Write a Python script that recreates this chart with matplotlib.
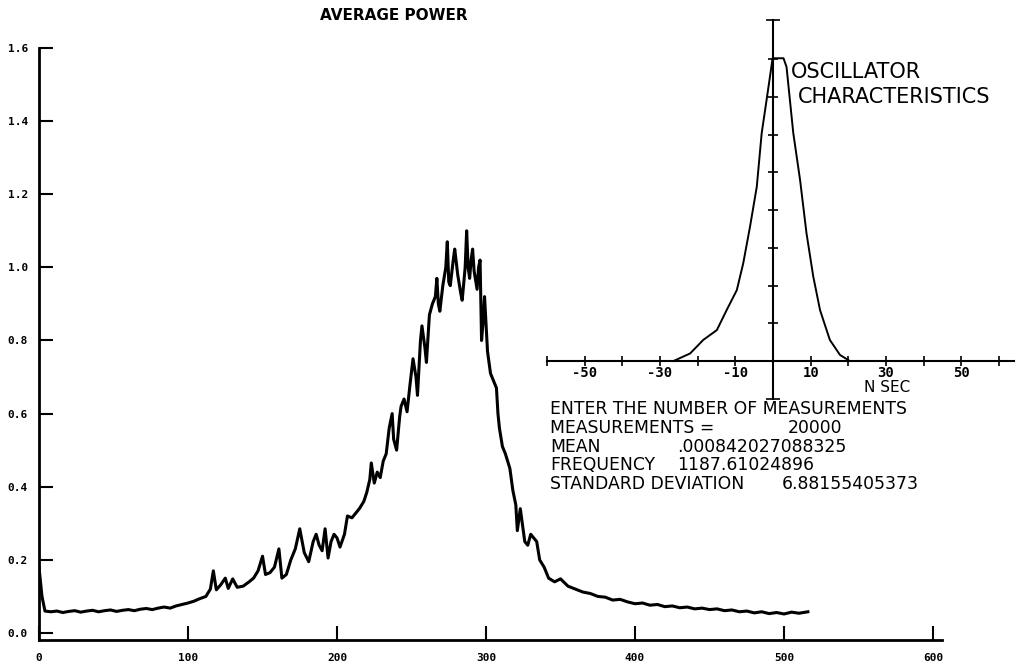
import numpy as np
import matplotlib.pyplot as plt

# main curve: average power vs sample
power_x = [0, 2, 4, 8, 12, 16, 20, 24, 28, 32, 36, 40, 44, 48, 52, 56, 60, 64, 68, 72,
           76, 80, 84, 88, 92, 96, 100, 104, 108, 112, 115, 117, 119, 122, 125, 127, 130, 133, 137, 141,
           144, 147, 150, 152, 155, 158, 161, 163, 166, 169, 172, 175, 178, 181, 184, 186, 188, 190, 192, 194,
           196, 198, 200, 202, 205, 207, 210, 213, 215, 218, 220, 222, 223, 225, 227, 229, 231, 233, 235, 237,
           238, 240, 242, 243, 245, 247, 249, 251, 253, 254, 256, 257, 259, 260, 262, 264, 266, 267, 268, 269,
           271, 273, 274, 275, 276, 278, 279, 281, 283, 284, 286, 287, 288, 289, 290, 291, 292, 294, 295, 296,
           297, 298, 299, 301, 303, 305, 307, 308, 309, 311, 313, 316, 318, 320, 321, 323, 325, 326, 328, 330,
           332, 334, 336, 339, 342, 346, 350, 355, 360, 365, 370, 375, 380, 385, 390, 395, 400, 405, 410, 415,
           420, 425, 430, 435, 440, 445, 450, 455, 460, 465, 470, 475, 480, 485, 490, 495, 500, 505, 510, 516]
power_y = [0.18, 0.10, 0.060, 0.058, 0.060, 0.056, 0.059, 0.061, 0.057, 0.060, 0.062, 0.058, 0.061, 0.063, 0.059, 0.062, 0.064, 0.061, 0.065, 0.067,
           0.064, 0.068, 0.071, 0.068, 0.074, 0.078, 0.082, 0.087, 0.094, 0.100, 0.120, 0.170, 0.118, 0.132, 0.150, 0.122, 0.148, 0.125, 0.128, 0.140,
           0.150, 0.170, 0.210, 0.160, 0.165, 0.180, 0.230, 0.150, 0.160, 0.200, 0.230, 0.285, 0.220, 0.195, 0.250, 0.270, 0.240, 0.225, 0.285, 0.205,
           0.250, 0.270, 0.260, 0.235, 0.270, 0.320, 0.315, 0.330, 0.340, 0.360, 0.385, 0.420, 0.465, 0.410, 0.440, 0.425, 0.470, 0.490, 0.560, 0.600,
           0.530, 0.500, 0.590, 0.620, 0.640, 0.605, 0.680, 0.750, 0.700, 0.650, 0.800, 0.840, 0.780, 0.740, 0.870, 0.900, 0.920, 0.970, 0.900, 0.880,
           0.950, 1.000, 1.070, 0.960, 0.950, 1.020, 1.050, 0.980, 0.930, 0.910, 1.000, 1.100, 1.000, 0.970, 1.020, 1.050, 0.990, 0.940, 1.000, 1.020,
           0.800, 0.850, 0.920, 0.770, 0.710, 0.690, 0.670, 0.600, 0.560, 0.510, 0.490, 0.450, 0.390, 0.350, 0.280, 0.340, 0.280, 0.250, 0.240, 0.270,
           0.260, 0.250, 0.200, 0.180, 0.150, 0.140, 0.148, 0.128, 0.120, 0.112, 0.108, 0.100, 0.098, 0.090, 0.092, 0.085, 0.080, 0.082, 0.076, 0.078,
           0.072, 0.074, 0.069, 0.071, 0.066, 0.068, 0.064, 0.066, 0.061, 0.063, 0.058, 0.060, 0.055, 0.058, 0.053, 0.056, 0.052, 0.057, 0.054, 0.058]

x_ticks = [0, 100, 200, 300, 400, 500, 600]
x_labels = ['0', '100', '200', '300', '400', '500', '600']
y_ticks = [0.0, 0.2, 0.4, 0.6, 0.8, 1.0, 1.2, 1.4, 1.6]
y_labels = ['0.0', '0.2', '0.4', '0.6', '0.8', '1.0', '1.2', '1.4', '1.6']

# inset: oscillator characteristics
osc_ns = [-26.4, -22.0, -18.5, -14.9, -12.3, -9.6, -7.9, -6.1, -4.3, -3.0, -1.7, -0.8, -0.1, 2.8,
          3.6, 5.4, 7.2, 8.9, 10.7, 12.5, 15.1, 17.8, 20.4]
osc_val = [0.0, 0.20, 0.56, 0.82, 1.35, 1.88, 2.59, 3.56, 4.62, 6.04, 6.92, 7.54, 8.03, 8.03,
           7.8, 6.04, 4.80, 3.39, 2.24, 1.35, 0.56, 0.16, 0.0]
osc_major = [-50, -30, -10, 10, 30, 50]
osc_major_labels = ['-50', '-30', '-10', '10', '30', '50']
osc_minor = [-60, -40, -20, 0, 20, 40, 60]

stats_labels = ['MEASUREMENTS =', 'MEAN', 'FREQUENCY', 'STANDARD DEVIATION']
stats_values = ['20000', '.000842027088325', '1187.61024896', '6.88155405373']

W, H = 1020, 668
fig = plt.figure(figsize=(W / 100, H / 100), dpi=100)


def fx(px):
    return px / W


def fy(py):
    return 1 - py / H


# main plot
ax = fig.add_axes([fx(39), fy(640.3), (942 - 39) / W, (640.3 - 48) / H])
ax.plot(power_x, power_y, color='black', lw=2.2)
ax.set_xlim(0, 606)
ax.set_ylim(-0.02, 1.6)
ax.spines['top'].set_visible(False)
ax.spines['right'].set_visible(False)
ax.spines['left'].set_linewidth(2)
ax.spines['bottom'].set_linewidth(2)
ax.set_xticks(x_ticks, x_labels)
ax.set_yticks(y_ticks, y_labels)
ax.tick_params(direction='in', length=10, width=1.5)
ax.tick_params(axis='x', pad=9)
ax.tick_params(axis='y', pad=8)
for lbl in ax.get_xticklabels() + ax.get_yticklabels():
    lbl.set_family('DejaVu Sans Mono')
    lbl.set_fontweight('bold')
    lbl.set_fontsize(8)
fig.text(fx(394), fy(15), 'AVERAGE POWER', ha='center', va='center',
         fontsize=11, fontweight='bold')

# inset plot
axi = fig.add_axes([fx(547), fy(398.7), (1014 - 547) / W, (398.7 - 19.8) / H])
axi.patch.set_alpha(0)
axi.plot(osc_ns, osc_val, color='black', lw=1.4)
axi.set_xlim(-60, 64)
axi.set_ylim(-1.0, 9.05)
axi.spines['top'].set_visible(False)
axi.spines['right'].set_visible(False)
axi.spines['left'].set_position(('data', 0))
axi.spines['bottom'].set_position(('data', 0))
axi.spines['left'].set_linewidth(1.5)
axi.spines['bottom'].set_linewidth(1.5)
axi.set_xticks(osc_major, osc_major_labels)
axi.set_xticks(osc_minor, minor=True)
axi.set_yticks(range(1, 9), [])
axi.set_yticks([-1.0, 9.05], minor=True)
axi.tick_params(direction='inout', length=7, width=1.2, which='both')
axi.tick_params(axis='y', which='minor', length=10)
axi.tick_params(axis='x', pad=0, labelsize=10)
for lbl in axi.get_xticklabels():
    lbl.set_family('DejaVu Sans Mono')
    lbl.set_fontweight('bold')

fig.text(fx(791), fy(72), 'OSCILLATOR', ha='left', va='center', fontsize=15)
fig.text(fx(798), fy(97), 'CHARACTERISTICS', ha='left', va='center', fontsize=15)
fig.text(fx(887), fy(388), 'N SEC', ha='center', va='center', fontsize=11)

# stats block
fig.text(fx(550), fy(409), 'ENTER THE NUMBER OF MEASUREMENTS', ha='left', va='center', fontsize=12.4)
row_y = [428, 447, 465, 484]
value_x = [788, 677, 677, 782]
for lab, val, yy, vx in zip(stats_labels, stats_values, row_y, value_x):
    fig.text(fx(550), fy(yy), lab, ha='left', va='center', fontsize=12.4)
    fig.text(fx(vx), fy(yy), val, ha='left', va='center', fontsize=12.4)

fig.savefig('out.png', dpi=100)
